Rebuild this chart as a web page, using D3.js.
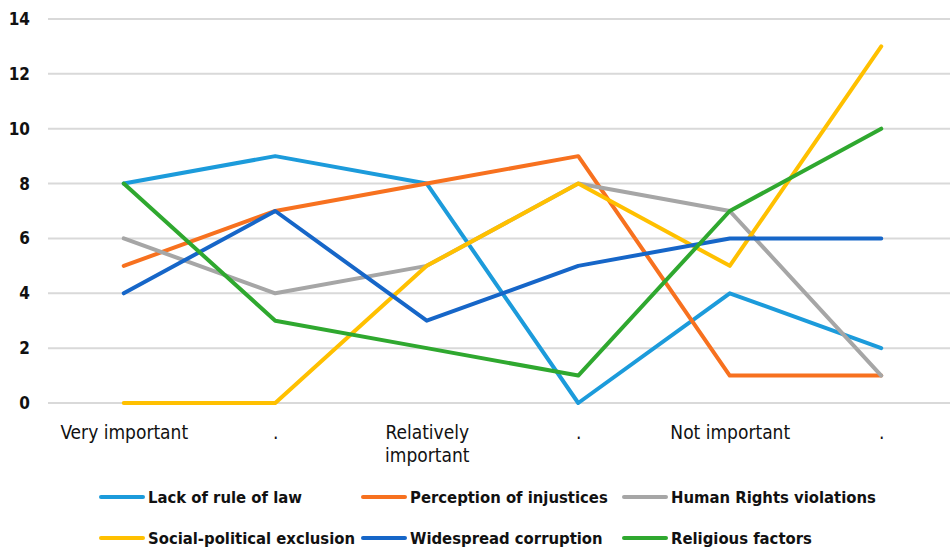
<!DOCTYPE html>
<html>
<head>
<meta charset="utf-8">
<script src="https://cdn.jsdelivr.net/npm/d3@7"></script>
<style>
  html, body { margin: 0; padding: 0; background: #fff; }
  svg { display: block; }
  text { font-family: "DejaVu Sans Condensed", "DejaVu Sans", sans-serif; fill: #111; }
</style>
</head>
<body>
<svg id="chart" width="950" height="550"></svg>
<script>
// Rating categories along the x axis
const categories = ["Very important", ".", "Relatively important", ".", "Not important", "."];

// Series names and their counts per category
const seriesNames = [
  "Lack of rule of law",
  "Perception of injustices",
  "Human Rights violations",
  "Social-political exclusion",
  "Widespread corruption",
  "Religious factors"
];
const lackOfRuleOfLaw      = [8, 9, 8, 0, 4, 2];
const perceptionInjustices = [5, 7, 8, 9, 1, 1];
const humanRights          = [6, 4, 5, 8, 7, 1];
const socialPolitical      = [0, 0, 5, 8, 5, 13];
const corruption           = [4, 7, 3, 5, 6, 6];
const religious            = [8, 3, 2, 1, 7, 10];

const yTicks = [0, 2, 4, 6, 8, 10, 12, 14];

const colors = ["#1c9bdb", "#f7711f", "#a6a6a6", "#ffc000", "#1666c8", "#2fa82f"];

const seriesValues = [lackOfRuleOfLaw, perceptionInjustices, humanRights, socialPolitical, corruption, religious];
const series = seriesNames.map((name, i) => ({ name, values: seriesValues[i], color: colors[i] }));

const svg = d3.select("#chart");
const plot = { left: 48, right: 957, top: 19, bottom: 403 };

const x = d3.scalePoint()
  .domain(d3.range(categories.length))
  .range([plot.left, plot.right])
  .padding(0.5);

const y = d3.scaleLinear().domain([0, 14]).range([plot.bottom, plot.top]);

// Horizontal gridlines
svg.append("g")
  .selectAll("line")
  .data(yTicks)
  .join("line")
  .attr("x1", plot.left)
  .attr("x2", plot.right)
  .attr("y1", d => y(d))
  .attr("y2", d => y(d))
  .attr("stroke", "#d9d9d9")
  .attr("stroke-width", 2);

// Y axis labels
const yAxis = svg.append("g")
  .attr("transform", `translate(${plot.left},0)`)
  .call(d3.axisLeft(y).tickValues(yTicks).tickSize(0).tickPadding(18));
yAxis.select(".domain").remove();
yAxis.selectAll("text")
  .attr("font-size", 17)
  .attr("font-weight", "bold")
  .attr("font-family", "'DejaVu Sans Condensed', 'DejaVu Sans', sans-serif")
  .attr("fill", "#111");

// X axis category labels (wrapped where needed)
const xAxis = svg.append("g")
  .attr("transform", `translate(0,${plot.bottom})`)
  .call(d3.axisBottom(x).tickSize(0).tickPadding(0).tickFormat(""));
xAxis.select(".domain").remove();

const wrapped = { "Relatively important": ["Relatively", "important"] };
xAxis.selectAll(".tick").each(function(d) {
  const label = categories[d];
  const lines = wrapped[label] || [label];
  const t = d3.select(this).append("text")
    .attr("text-anchor", "middle")
    .attr("font-size", 19)
    .attr("fill", "#111");
  lines.forEach((ln, i) => {
    t.append("tspan").attr("x", 0).attr("y", 36 + i * 23).text(ln);
  });
});

// Series lines
const line = d3.line()
  .x((d, i) => x(i))
  .y(d => y(d));

svg.append("g")
  .selectAll("path")
  .data(series)
  .join("path")
  .attr("d", d => line(d.values))
  .attr("fill", "none")
  .attr("stroke", d => d.color)
  .attr("stroke-width", 4)
  .attr("stroke-linejoin", "round")
  .attr("stroke-linecap", "round");

// Legend: two rows of three entries
const legendCols = [101, 363, 624];
const legendRows = [497, 538];
const legend = svg.append("g")
  .selectAll("g")
  .data(series)
  .join("g")
  .attr("transform", (d, i) => `translate(${legendCols[i % 3]},${legendRows[Math.floor(i / 3)]})`);

legend.append("line")
  .attr("x1", 0).attr("x2", 42)
  .attr("y1", 0).attr("y2", 0)
  .attr("stroke", d => d.color)
  .attr("stroke-width", 4)
  .attr("stroke-linecap", "round");

legend.append("text")
  .attr("x", 47)
  .attr("y", 6)
  .attr("font-size", 16.5)
  .attr("font-weight", 600)
  .text(d => d.name);
</script>
</body>
</html>
